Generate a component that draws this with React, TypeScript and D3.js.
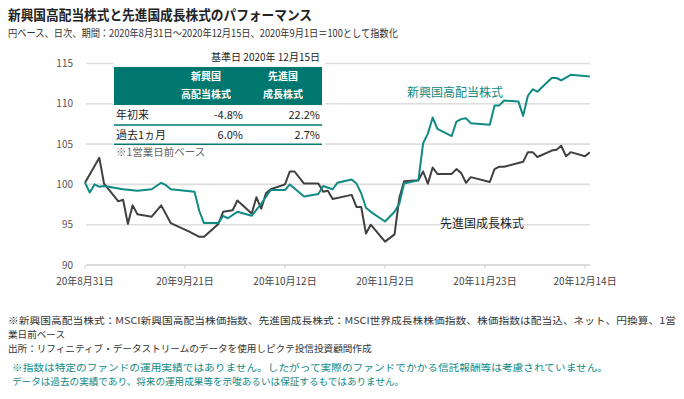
import React from "react";
import * as d3 from "d3";

// 新興国高配当株式 (MSCI新興国高配当)
const emDates: string[] = [
  "2020-08-31", "2020-09-01", "2020-09-02", "2020-09-03", "2020-09-04", "2020-09-08", "2020-09-11",
  "2020-09-14", "2020-09-16", "2020-09-17", "2020-09-18", "2020-09-23", "2020-09-24", "2020-09-25",
  "2020-09-28", "2020-09-29", "2020-09-30", "2020-10-02", "2020-10-05", "2020-10-07", "2020-10-09",
  "2020-10-12", "2020-10-13", "2020-10-16", "2020-10-19", "2020-10-20", "2020-10-22", "2020-10-23",
  "2020-10-26", "2020-10-27", "2020-10-28", "2020-10-29", "2020-10-30", "2020-11-02", "2020-11-04",
  "2020-11-05", "2020-11-06", "2020-11-09", "2020-11-10", "2020-11-11", "2020-11-12", "2020-11-13",
  "2020-11-16", "2020-11-17", "2020-11-18", "2020-11-19", "2020-11-20", "2020-11-24", "2020-11-25",
  "2020-11-26", "2020-11-27", "2020-11-30", "2020-12-01", "2020-12-02", "2020-12-03", "2020-12-04",
  "2020-12-07", "2020-12-08", "2020-12-09", "2020-12-11", "2020-12-15",
];
const emValues: number[] = [
  100.2, 99.0, 100.0, 99.7, 99.8, 99.4, 99.2,
  99.4, 100.2, 99.9, 99.4, 99.1, 96.7, 95.2,
  95.2, 96.1, 95.8, 96.6, 96.1, 97.6, 99.3,
  99.3, 100.0, 98.5, 98.8, 99.8, 99.4, 100.2,
  100.6, 100.1, 98.9, 97.1, 96.6, 95.4, 96.6,
  97.6, 100.1, 100.5, 105.1, 106.3, 108.3, 106.9,
  106.0, 107.8, 108.1, 108.2, 107.6, 107.4, 109.8,
  109.8, 110.4, 110.3, 108.5, 111.0, 111.8, 111.5,
  113.2, 113.2, 112.9, 113.6, 113.4,
];

// 先進国成長株式 (MSCI世界成長株)
const dgDates: string[] = [
  "2020-08-31", "2020-09-03", "2020-09-04", "2020-09-07", "2020-09-08", "2020-09-09", "2020-09-10",
  "2020-09-11", "2020-09-14", "2020-09-16", "2020-09-18", "2020-09-22", "2020-09-24", "2020-09-25",
  "2020-09-28", "2020-09-29", "2020-10-01", "2020-10-02", "2020-10-05", "2020-10-06", "2020-10-07",
  "2020-10-08", "2020-10-09", "2020-10-12", "2020-10-13", "2020-10-14", "2020-10-16", "2020-10-19",
  "2020-10-20", "2020-10-21", "2020-10-22", "2020-10-26", "2020-10-27", "2020-10-28", "2020-10-29",
  "2020-10-30", "2020-11-02", "2020-11-04", "2020-11-05", "2020-11-06", "2020-11-09", "2020-11-10",
  "2020-11-11", "2020-11-12", "2020-11-13", "2020-11-16", "2020-11-17", "2020-11-18", "2020-11-19",
  "2020-11-20", "2020-11-24", "2020-11-25", "2020-11-26", "2020-11-27", "2020-12-01", "2020-12-02",
  "2020-12-03", "2020-12-04", "2020-12-07", "2020-12-08", "2020-12-09", "2020-12-10", "2020-12-11",
  "2020-12-14", "2020-12-15",
];
const dgValues: number[] = [
  100.2, 103.3, 100.1, 97.9, 98.1, 95.1, 97.4,
  96.3, 96.0, 97.4, 95.2, 94.1, 93.5, 93.5,
  95.1, 96.6, 96.8, 98.0, 96.4, 98.4, 97.0,
  98.9, 99.4, 100.0, 101.6, 101.6, 100.1, 100.1,
  99.1, 99.2, 98.2, 98.7, 97.2, 97.2, 93.9,
  95.0, 92.9, 93.8, 98.3, 100.4, 100.5, 101.6,
  100.1, 102.1, 101.3, 101.3, 101.9, 101.4, 100.2,
  100.9, 100.3, 101.9, 102.2, 102.2, 102.8, 104.0,
  104.0, 103.4, 104.2, 104.3, 104.8, 103.5, 104.0,
  103.5, 104.0,
];

const yTicks: number[] = [90, 95, 100, 105, 110, 115];
const xTickDates: string[] = ["2020-08-31", "2020-09-21", "2020-10-12", "2020-11-02", "2020-11-23", "2020-12-14"];
const xTickLabels: string[] = ["20年8月31日", "20年9月21日", "20年10月12日", "20年11月2日", "20年11月23日", "20年12月14日"];

const tableHead1: string[] = ["新興国", "先進国"];
const tableHead2: string[] = ["高配当株式", "成長株式"];
const rowLabels: string[] = ["年初来", "過去1ヵ月"];
const emReturns: string[] = ["-4.8%", "6.0%"];
const dgReturns: string[] = ["22.2%", "2.7%"];

const footLines: string[] = [
  "※新興国高配当株式：MSCI新興国高配当株価指数、先進国成長株式：MSCI世界成長株株価指数、株価指数は配当込、ネット、円換算、1営",
  "業日前ベース",
  "出所：リフィニティブ・データストリームのデータを使用しピクテ投信投資顧問作成",
];
const noteLines: string[] = [
  "※指数は特定のファンドの運用実績ではありません。したがって実際のファンドでかかる信託報酬等は考慮されていません。",
  "データは過去の実績であり、将来の運用成果等を示唆あるいは保証するもではありません。",
];

const TEAL = "#00776f";
const LINE_TEAL = "#108a84";
const DARK = "#404040";
const FONT = "'Noto Sans CJK JP', 'Noto Sans', sans-serif";

const parse = d3.timeParse("%Y-%m-%d");

const App = () => {
  const W = 684;
  const H = 399;
  const left = 86;
  const right = 590;

  const x = d3.scaleTime()
    .domain([parse("2020-08-31") as Date, parse("2020-12-15") as Date])
    .range([85, 589.8]);
  const y = d3.scaleLinear().domain([90, 115]).range([265, 63.5]);

  const line = d3.line<[Date, number]>()
    .x((d) => x(d[0]))
    .y((d) => y(d[1]));

  const emPts: [Date, number][] = emDates.map((d, i) => [parse(d) as Date, emValues[i]]);
  const dgPts: [Date, number][] = dgDates.map((d, i) => [parse(d) as Date, dgValues[i]]);

  const colA = 243;
  const colB = 320;

  return (
    <svg width={W} height={H} style={{ position: "absolute", left: 0, top: 0, background: "#fff" }} fontFamily={FONT}>
      {/* title */}
      <text x={8} y={20} fontSize={13.5} fontWeight="bold" fill="#222" textLength={304} lengthAdjust="spacingAndGlyphs">新興国高配当株式と先進国成長株式のパフォーマンス</text>
      <text x={8} y={37} fontSize={10.5} fill="#333" textLength={390} lengthAdjust="spacingAndGlyphs">円ベース、日次、期間：2020年8月31日～2020年12月15日、2020年9月1日＝100として指数化</text>

      {/* gridlines */}
      {yTicks.map((t) => (
        <g key={t}>
          <line x1={left} x2={right} y1={y(t)} y2={y(t)} stroke={t === 90 ? "#d0d0d0" : "#dedede"} strokeWidth={1.6} />
          <text x={73} y={y(t) + 3.5} fontSize={10} fill="#555" textAnchor="end">{t}</text>
        </g>
      ))}
      {xTickDates.map((d, i) => {
        const xx = x(parse(d) as Date);
        return (
          <g key={d}>
            <line x1={xx} x2={xx} y1={265} y2={269} stroke="#d0d0d0" strokeWidth={1} />
            <text x={xx} y={285} fontSize={10} fill="#444" textAnchor="middle">{xTickLabels[i]}</text>
          </g>
        );
      })}

      {/* table */}
      <rect x={113} y={48} width={212} height={112} fill="#fff" />
      <text x={colB} y={61} fontSize={10} fill="#222" textAnchor="end">基準日  2020年 12月15日</text>
      <rect x={114} y={67} width={208} height={38} fill={TEAL} />
      {tableHead1.map((h, i) => (
        <text key={h} x={i === 0 ? 206 : 283} y={80} fontSize={10} fontWeight="bold" fill="#fff" textAnchor="middle">{h}</text>
      ))}
      {tableHead2.map((h, i) => (
        <text key={h} x={i === 0 ? 206 : 283} y={98} fontSize={10} fontWeight="bold" fill="#fff" textAnchor="middle">{h}</text>
      ))}
      {rowLabels.map((r, i) => (
        <g key={r}>
          <text x={116} y={119 + i * 19.5} fontSize={11} fill="#222">{r}</text>
          <text x={colA} y={119 + i * 19.5} fontSize={11} fill="#222" textAnchor="end">{emReturns[i]}</text>
          <text x={colB} y={119 + i * 19.5} fontSize={11} fill="#222" textAnchor="end">{dgReturns[i]}</text>
        </g>
      ))}
      <line x1={114} x2={322} y1={125} y2={125} stroke={TEAL} strokeWidth={1.5} />
      <line x1={114} x2={322} y1={144.3} y2={144.3} stroke={TEAL} strokeWidth={1.5} />
      <text x={116} y={156} fontSize={10.5} fill="#666">※1営業日前ベース</text>

      {/* series */}
      <path d={line(dgPts) || ""} fill="none" stroke={DARK} strokeWidth={2} strokeLinejoin="round" />
      <path d={line(emPts) || ""} fill="none" stroke={LINE_TEAL} strokeWidth={2} strokeLinejoin="round" />

      <text x={407} y={97} fontSize={12} fill={LINE_TEAL}>新興国高配当株式</text>
      <text x={440} y={228} fontSize={12} fill="#222">先進国成長株式</text>

      {/* footnotes */}
      {footLines.map((l, i) => (
        <text key={i} x={8} y={324 + i * 14} fontSize={9.6} fill="#333"
          textLength={i === 0 ? 668 : undefined} lengthAdjust="spacingAndGlyphs">{l}</text>
      ))}
      {noteLines.map((l, i) => (
        <text key={i} x={12} y={371 + i * 14} fontSize={9.6} fill={LINE_TEAL}
          textLength={i === 0 ? 596 : undefined} lengthAdjust="spacingAndGlyphs">{l}</text>
      ))}
    </svg>
  );
};

export default App;
